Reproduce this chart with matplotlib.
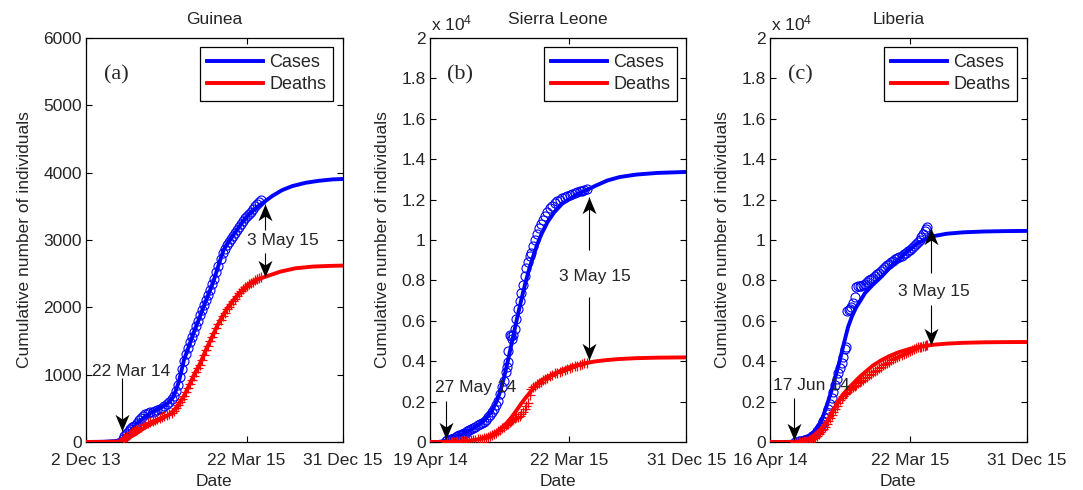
import numpy as np
import matplotlib
matplotlib.use("Agg")
import matplotlib.pyplot as plt
from matplotlib.ticker import FuncFormatter
from matplotlib.path import Path

plt.rcParams['font.family'] = ['Liberation Sans', 'DejaVu Sans']
plt.rcParams['mathtext.fontset'] = 'custom'
plt.rcParams['mathtext.rm'] = 'Liberation Sans'
plt.rcParams['mathtext.default'] = 'regular'

TXT = '#262626'

# ---------------- data (x = days since panel start date) ----------------
countries = ["Guinea", "Sierra Leone", "Liberia"]
panel_tags = ["(a)", "(b)", "(c)"]
xtick_days = [[0, 475, 759], [0, 337, 621], [0, 340, 624]]
xtick_labels = [["2 Dec 13", "22 Mar 15", "31 Dec 15"],
                ["19 Apr 14", "22 Mar 15", "31 Dec 15"],
                ["16 Apr 14", "22 Mar 15", "31 Dec 15"]]
start_labels = ["22 Mar 14", "27 May 14", "17 Jun 14"]

# Guinea
gn_obs_day = [110, 113, 117, 121, 126, 131, 136, 141, 147, 152, 158, 164, 170, 176, 183, 190, 197, 204,
              211, 218, 225, 232, 239, 246, 253, 260, 266, 272, 278, 284, 290, 296, 302, 308, 314, 320,
              326, 332, 338, 344, 350, 356, 362, 368, 374, 380, 386, 392, 398, 404, 410, 416, 422, 428,
              434, 440, 446, 452, 458, 464, 470, 476, 482, 488, 494, 500, 506, 512, 517]
gn_obs_cases = [49, 86, 112, 127, 158, 197, 226, 240, 258, 281, 328, 351, 390, 412, 427, 440, 448, 460,
                470, 490, 510, 540, 570, 600, 640, 690, 760, 840, 960, 1080, 1200, 1300, 1400, 1480, 1560, 1640,
                1720, 1800, 1880, 1960, 2040, 2110, 2180, 2260, 2340, 2420, 2520, 2620, 2720, 2800, 2870, 2930,
                2970, 3010, 3060, 3100, 3150, 3190, 3240, 3280, 3320, 3350, 3380, 3420, 3460, 3500, 3530, 3570, 3590]
gn_obs_deaths = [29, 60, 70, 83, 101, 122, 143, 160, 174, 186, 208, 226, 250, 270, 287, 300, 307, 320,
                 335, 350, 365, 380, 395, 410, 430, 460, 500, 550, 600, 640, 680, 740, 800, 860, 920, 980,
                 1040, 1100, 1150, 1220, 1290, 1360, 1430, 1500, 1560, 1620, 1690, 1750, 1810, 1870, 1920, 1970,
                 2010, 2050, 2090, 2130, 2170, 2210, 2240, 2270, 2300, 2320, 2340, 2360, 2380, 2400, 2420, 2435, 2450]
gn_fit_day = [0, 50, 90, 110, 130, 150, 170, 190, 210, 230, 245, 260, 275, 290, 305, 318, 333, 348, 363, 378,
              393, 407, 427, 447, 466, 486, 506, 526, 550, 580, 610, 650, 690, 730, 759]
gn_fit_cases = [0, 3, 15, 50, 150, 260, 360, 430, 480, 530, 590, 680, 900, 1220, 1430, 1615, 1810, 2010, 2200,
                2400, 2640, 2850, 3010, 3150, 3290, 3400, 3490, 3560, 3650, 3740, 3800, 3850, 3880, 3900, 3906]
gn_fit_death_day = [0, 50, 90, 110, 130, 150, 170, 190, 210, 230, 250, 270, 289, 305, 320, 338, 355, 372, 387,
                    405, 420, 437, 460, 486, 510, 531, 575, 620, 670, 720, 759]
gn_fit_deaths = [0, 2, 5, 20, 70, 130, 200, 260, 310, 360, 420, 520, 673, 840, 1000, 1170, 1370, 1550, 1712,
                 1880, 2000, 2110, 2240, 2357, 2420, 2455, 2530, 2580, 2605, 2615, 2620]

# Sierra Leone
sl_obs_day = [38, 42, 46, 50, 54, 58, 62, 66, 70, 74, 78, 82, 86, 90, 95, 100, 105, 110, 115, 120, 125, 130,
              135, 140, 145, 150, 155, 160, 165, 170, 175, 180, 184, 186, 188, 190, 193, 196, 199, 202, 205,
              209, 213, 217, 221, 225, 229, 233, 237, 241, 245, 249, 253, 258, 263, 268, 273, 278, 284, 290,
              296, 302, 308, 314, 320, 326, 332, 338, 344, 350, 356, 362, 368, 374, 379]
sl_obs_cases = [50, 80, 110, 140, 170, 200, 240, 280, 330, 370, 400, 440, 470, 520, 580, 630, 700, 760, 820,
                870, 940, 1000, 1100, 1230, 1360, 1480, 1640, 1830, 2050, 2400, 2700, 3000, 3450, 3700, 3950,
                4500, 5300, 5250, 5100, 5300, 5600, 6100, 6600, 7000, 7400, 7750, 8200, 8600, 8900, 9200, 9350,
                9700, 10000, 10300, 10600, 10800, 11000, 11200, 11400, 11600, 11700, 11850, 11950, 12000, 12100,
                12150, 12200, 12250, 12300, 12350, 12400, 12420, 12450, 12470, 12500]
sl_obs_deaths = [5, 8, 10, 12, 15, 18, 20, 25, 30, 35, 40, 45, 52, 60, 70, 80, 95, 110, 125, 140, 160, 190,
                 220, 260, 300, 350, 400, 460, 520, 600, 680, 760, 830, 870, 900, 950, 1000, 1050, 1100, 1150,
                 1180, 1230, 1250, 1300, 1400, 1500, 1650, 1800, 1950, 2350, 2600, 2700, 2780, 2850, 2920, 2990,
                 3050, 3110, 3180, 3250, 3320, 3400, 3440, 3490, 3530, 3580, 3620, 3660, 3700, 3740, 3780, 3820,
                 3860, 3890, 3920]
sl_fit_day = [0, 20, 38, 60, 80, 100, 120, 135, 150, 160, 170, 180, 190, 200, 210, 220, 230, 240, 250, 260,
              270, 285, 300, 320, 340, 360, 380, 400, 430, 460, 500, 550, 621]
sl_fit_cases = [0, 0, 60, 200, 400, 620, 880, 1150, 1550, 1950, 2500, 3250, 4150, 5100, 6050, 6950, 7800,
                8550, 9200, 9800, 10300, 10900, 11350, 11800, 12050, 12300, 12480, 12680, 12950, 13120, 13240,
                13320, 13370]
sl_fit_deaths = [0, 0, 5, 15, 40, 80, 150, 240, 360, 470, 620, 800, 1030, 1300, 1580, 1880, 2150, 2400,
                 2660, 2880, 3050, 3230, 3380, 3560, 3720, 3830, 3920, 3990, 4060, 4110, 4150, 4175, 4190]

# Liberia
lr_obs_day = [62, 66, 70, 74, 78, 82, 86, 90, 94, 98, 102, 106, 110, 114, 118, 122, 126, 130, 134, 138, 142,
              146, 150, 154, 158, 162, 166, 170, 174, 178, 182, 184, 188, 191, 194, 198, 202, 206, 210, 214,
              218, 222, 226, 230, 235, 240, 245, 250, 255, 260, 265, 270, 275, 280, 285, 290, 295, 300, 305,
              310, 315, 320, 325, 330, 335, 340, 345, 350, 355, 360, 364, 368, 372, 376, 379, 382]
lr_obs_cases = [10, 20, 30, 40, 60, 80, 100, 130, 170, 220, 280, 350, 420, 520, 620, 750, 900, 1050, 1200,
                1400, 1650, 1900, 2200, 2500, 2800, 3100, 3400, 3650, 3900, 4200, 4600, 4700, 6500, 6550, 6600,
                6700, 6900, 7200, 7650, 7700, 7700, 7700, 7750, 7800, 7900, 8000, 8050, 8100, 8200, 8300, 8350,
                8450, 8550, 8650, 8750, 8800, 8900, 8950, 9050, 9100, 9150, 9200, 9300, 9350, 9450, 9500, 9600,
                9700, 9800, 9900, 10000, 10150, 10300, 10450, 10550, 10650]
lr_obs_deaths = [5, 8, 10, 15, 20, 30, 40, 60, 80, 110, 150, 200, 260, 320, 400, 480, 570, 660, 760, 900,
                 1050, 1200, 1350, 1500, 1650, 1800, 1950, 2100, 2200, 2300, 2380, 2420, 2500, 2550, 2600, 2650,
                 2700, 2760, 2830, 2900, 2960, 3020, 3080, 3150, 3230, 3300, 3380, 3450, 3520, 3580, 3650, 3720,
                 3790, 3850, 3920, 3980, 4040, 4100, 4160, 4220, 4270, 4320, 4380, 4430, 4480, 4520, 4560, 4600,
                 4640, 4680, 4700, 4720, 4740, 4760, 4780, 4800]
lr_fit_day = [0, 40, 62, 80, 100, 115, 126, 138, 150, 160, 170, 180, 190, 200, 210, 220, 231, 250, 271, 290,
              311, 335, 360, 380, 400, 430, 470, 520, 570, 624]
lr_fit_cases = [0, 0, 20, 80, 280, 650, 1090, 1800, 2570, 3300, 4060, 4900, 5700, 6250, 6680, 7000, 7370,
                7780, 8180, 8600, 9010, 9450, 9850, 10050, 10200, 10310, 10380, 10420, 10440, 10450]
lr_fit_deaths = [0, 0, 5, 40, 220, 480, 700, 1000, 1450, 1790, 2120, 2400, 2650, 2850, 3060, 3260, 3450,
                 3780, 4050, 4250, 4430, 4580, 4700, 4770, 4820, 4870, 4910, 4935, 4945, 4950]

obs_days = [gn_obs_day, sl_obs_day, lr_obs_day]
obs_cases = [gn_obs_cases, sl_obs_cases, lr_obs_cases]
obs_deaths = [gn_obs_deaths, sl_obs_deaths, lr_obs_deaths]
fit_case_days = [gn_fit_day, sl_fit_day, lr_fit_day]
fit_death_days = [gn_fit_death_day, sl_fit_day, lr_fit_day]
fit_cases = [gn_fit_cases, sl_fit_cases, lr_fit_cases]
fit_deaths = [gn_fit_deaths, sl_fit_deaths, lr_fit_deaths]
ymax = [6000, 20000, 20000]

# annotation anchors (day, value): (tail, head)
start_arrow = [((108, 950), (108, 170)), ((38, 2050), (38, 150)), ((58, 2200), (58, 100))]
start_text = [(135, 1050), (111, 2720), (100, 2820)]
up_arrow = [((530, 3150), (530, 3530)), ((386, 9500), (386, 12150)), ((391, 8370), (391, 10600))]
end_text = [(584, 3000), (400, 8170), (399, 7430)]
down_arrow = [((530, 2800), (530, 2450)), ((386, 7180), (386, 4060)), ((391, 6780), (391, 4800))]

# concave arrow-head markers (tip at marker origin)
head_up = Path([(0, 0), (0.42, -1), (0, -0.72), (-0.42, -1), (0, 0)],
               [Path.MOVETO, Path.LINETO, Path.LINETO, Path.LINETO, Path.CLOSEPOLY])
head_down = Path([(0, 0), (0.42, 1), (0, 0.72), (-0.42, 1), (0, 0)],
                 [Path.MOVETO, Path.LINETO, Path.LINETO, Path.LINETO, Path.CLOSEPOLY])


def arrow(ax, tail, head):
    ax.plot([tail[0], head[0]], [tail[1], head[1]], color='black', lw=0.8, zorder=7,
            solid_capstyle='butt')
    m = head_up if head[1] > tail[1] else head_down
    ax.plot([head[0]], [head[1]], marker=m, ms=24, color='black', mew=0, zorder=8)


# ---------------- figure ----------------
fig = plt.figure(figsize=(10.83, 4.9), dpi=100)
lefts = [86, 430, 770]
W, H = 1083.0, 490.0
for i in range(3):
    ax = fig.add_axes([lefts[i] / W, 1 - 442 / H, 256.5 / W, 404 / H])
    ax.plot(obs_days[i], obs_cases[i], 'o', ms=6.5, mfc='none', mec='#0000ff', mew=0.8, zorder=2)
    ax.plot(fit_case_days[i], fit_cases[i], '-', color='#0000ff', lw=2.8, zorder=3, label='Cases')
    ax.plot(obs_days[i], obs_deaths[i], '+', ms=7, mec='#ff0000', mew=0.9, zorder=4)
    ax.plot(fit_death_days[i], fit_deaths[i], '-', color='#ff0000', lw=2.8, zorder=5, label='Deaths')

    ax.set_xlim(xtick_days[i][0], xtick_days[i][-1])
    ax.set_ylim(0, ymax[i])
    ax.set_xticks(xtick_days[i])
    ax.set_xticklabels(xtick_labels[i])
    if i == 0:
        ax.set_yticks(np.arange(0, 6001, 1000))
    else:
        ax.set_yticks(np.arange(0, 20001, 2000))
        ax.yaxis.set_major_formatter(FuncFormatter(lambda v, p: f"{v / 1e4:g}"))
        ax.text(0.005, 1.012, r'x 10$^{4}$', transform=ax.transAxes, fontsize=12.5,
                color=TXT, ha='left', va='bottom')
    ax.tick_params(direction='in', length=4, width=0.8, top=True, right=True,
                   labelsize=12.5, labelcolor=TXT)
    ax.tick_params(axis='x', pad=8)
    ax.tick_params(axis='y', pad=3)
    for s in ax.spines.values():
        s.set_linewidth(0.9)
    ax.set_title(countries[i], fontsize=12.5, color=TXT, pad=10)
    ax.set_xlabel('Date', fontsize=12.5, color=TXT, labelpad=4)
    ax.set_ylabel('Cumulative number of individuals', fontsize=12.5, color=TXT, labelpad=8)

    leg = ax.legend(loc='upper right', fontsize=13, handlelength=3.1, fancybox=False,
                    edgecolor='black', framealpha=1, borderaxespad=0.5, borderpad=0.4,
                    labelspacing=0.28, handletextpad=0.35)
    leg.get_frame().set_linewidth(0.9)
    for t in leg.get_texts():
        t.set_color(TXT)

    ax.text(0.117, 0.908, panel_tags[i], transform=ax.transAxes, fontsize=16,
            family='Liberation Serif', color=TXT, ha='center', va='center')

    arrow(ax, *start_arrow[i])
    ax.text(start_text[i][0], start_text[i][1], start_labels[i], fontsize=12.5, color=TXT,
            ha='center', va='center', zorder=6)
    arrow(ax, *up_arrow[i])
    ax.text(end_text[i][0], end_text[i][1], '3 May 15', fontsize=12.5, color=TXT,
            ha='center', va='center', zorder=6)
    arrow(ax, *down_arrow[i])

fig.savefig('out.png', dpi=100)
